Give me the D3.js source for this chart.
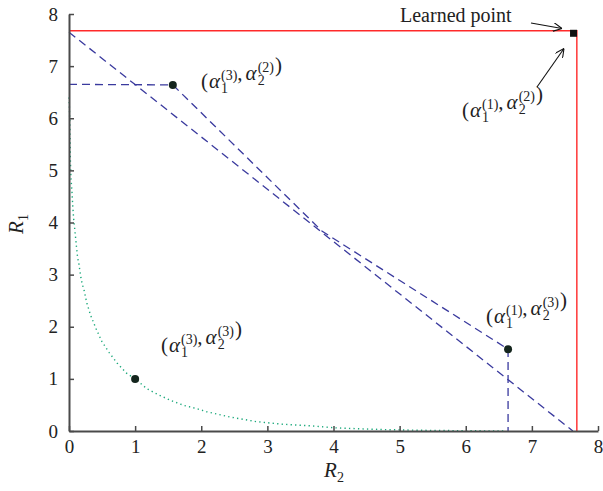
<!DOCTYPE html>
<html>
<head>
<meta charset="utf-8">
<script src="https://cdn.jsdelivr.net/npm/d3@7"></script>
<style>
    body { margin: 0; background: #fff; }
    svg text { font-family: "Liberation Serif", "DejaVu Serif", serif; fill: #222; }
    .axis path, .axis line { stroke: #4a4a4a; }
    .axis path { stroke-width: 2px; }
    .axis line { stroke-width: 1.5px; }
    .axis text { font-size: 19px; }
</style>
</head>
<body>
<div id="chart"></div>
<script>

// ticks
const xTicks = [0, 1, 2, 3, 4, 5, 6, 7, 8];
const yTicks = [0, 1, 2, 3, 4, 5, 6, 7, 8];

// red boundary through the learned point
const redX = [0, 7.68, 7.68];
const redY = [7.68, 7.68, 0];

// blue dashed lines (each one is a list of x and a list of y)
const envX = [0, 7.62];
const envY = [7.65, 0];
const chordX = [0, 1.57, 3.83, 6.64, 6.64];
const chordY = [6.65, 6.64, 3.83, 1.57, 0];

// green dotted curve
const curveX = [0.0, 0.005, 0.015, 0.02, 0.03, 0.045, 0.056, 0.07, 0.09, 0.11, 0.13, 0.15, 0.18, 0.2, 0.23,
    0.27, 0.33, 0.41, 0.5, 0.61, 0.73, 0.87, 1.0, 1.18, 1.36, 1.55, 1.74, 1.93, 2.08, 2.43, 2.83,
    3.23, 3.64, 4.03, 4.44, 4.84, 5.24, 5.65, 6.05, 6.6];
const curveY = [6.4, 6.26, 5.74, 5.23, 4.85, 4.59, 4.34, 4.08, 3.83, 3.57, 3.33, 3.2, 2.94, 2.82, 2.69,
    2.45, 2.21, 1.96, 1.71, 1.5, 1.3, 1.11, 1.0, 0.81, 0.69, 0.58, 0.49, 0.43, 0.37, 0.27, 0.18,
    0.13, 0.10, 0.06, 0.04, 0.025, 0.015, 0.01, 0.005, 0.0];

// the points and their labels (superscripts of alpha_1 and alpha_2)
const pointX = [1.57, 6.64, 1.0];
const pointY = [6.64, 1.57, 1.0];
const learnedX = 7.63;
const learnedY = 7.63;
const labelSup1 = ["(3)", "(1)", "(3)", "(1)"];
const labelSup2 = ["(2)", "(3)", "(3)", "(2)"];

const width = 603, height = 491;

const svg = d3.select("#chart").append("svg")
    .attr("width", width)
    .attr("height", height);

const x = d3.scaleLinear().domain([0, 8]).range([69, 598]);
const y = d3.scaleLinear().domain([0, 8]).range([431, 14]);

const zip = (xs, ys) => xs.map((d, i) => [d, ys[i]]);
const line = d3.line().x(d => x(d[0])).y(d => y(d[1]));

// green dotted curve
svg.append("path")
    .attr("d", line(zip(curveX, curveY)))
    .attr("fill", "none")
    .attr("stroke", "#1aa87a")
    .attr("stroke-width", 1.4)
    .attr("stroke-dasharray", "1.3,3.2");

// blue dashed
[[envX, envY], [chordX, chordY]].forEach(([xs, ys]) => {
    svg.append("path")
        .attr("d", line(zip(xs, ys)))
        .attr("fill", "none")
        .attr("stroke", "#3a3a9e")
        .attr("stroke-width", 1.3)
        .attr("stroke-dasharray", "8,5");
});

// red
svg.append("path")
    .attr("d", line(zip(redX, redY)))
    .attr("fill", "none")
    .attr("stroke", "#ff2a2a")
    .attr("stroke-width", 1.4);

// axes, ticks pointing inside
svg.append("g")
    .attr("class", "axis")
    .attr("transform", `translate(0,${y(0)})`)
    .call(d3.axisBottom(x).tickValues(xTicks).tickSize(-5).tickSizeOuter(0).tickPadding(9))
    .call(g => g.selectAll("text").attr("fill", "#222"));

svg.append("g")
    .attr("class", "axis")
    .attr("transform", `translate(${x(0)},0)`)
    .call(d3.axisLeft(y).tickValues(yTicks).tickSize(-5).tickSizeOuter(0).tickPadding(11))
    .call(g => g.selectAll("text").attr("fill", "#222"));

// axis titles
function axisTitle(tx, ty, sub, rotate) {
    const t = svg.append("text")
        .attr("transform", `translate(${tx},${ty})` + (rotate ? " rotate(-90)" : ""))
        .attr("text-anchor", "middle")
        .style("font-size", "21px");
    t.append("tspan").style("font-style", "italic").text("R");
    t.append("tspan").attr("dy", 5).style("font-size", "14px").text(sub);
}
axisTitle(334, 477, "2", false);
axisTitle(23, 224, "1", true);

// points
svg.selectAll(".pt").data(zip(pointX, pointY)).enter()
    .append("circle")
    .attr("class", "pt")
    .attr("cx", d => x(d[0]))
    .attr("cy", d => y(d[1]))
    .attr("r", 4)
    .attr("fill", "#14251d");

svg.append("rect")
    .attr("x", x(learnedX) - 3.5)
    .attr("y", y(learnedY) - 3.5)
    .attr("width", 7)
    .attr("height", 7)
    .attr("fill", "#111");

// (alpha_1^(a), alpha_2^(b)) as one text, the superscript stepped back over the subscript
function mathLabel(lx, ly, sup1, sup2) {
    const t = svg.append("text")
        .attr("x", lx).attr("y", ly)
        .style("font-size", "21px");
    const alpha = (sub, sup, first) => {
        t.append("tspan").attr("dx", first ? 1 : 3).style("font-style", "italic").text("α");
        t.append("tspan").attr("dx", 1).attr("dy", 5).style("font-size", "14px").text(sub);
        t.append("tspan").attr("dx", -7).attr("dy", -13).style("font-size", "14px").text(sup);
        t.append("tspan").attr("dy", 8).text("");
    };
    t.append("tspan").text("(");
    alpha("1", sup1, true);
    t.append("tspan").text(",");
    alpha("2", sup2, false);
    t.append("tspan").attr("dx", 1).text(")");
}
mathLabel(201, 88, labelSup1[0], labelSup2[0]);
mathLabel(486, 323, labelSup1[1], labelSup2[1]);
mathLabel(161, 352, labelSup1[2], labelSup2[2]);
mathLabel(462, 117, labelSup1[3], labelSup2[3]);

svg.append("text")
    .attr("x", 400)
    .attr("y", 22)
    .style("font-size", "20px")
    .text("Learned point");

// arrows
svg.append("defs").append("marker")
    .attr("id", "head")
    .attr("viewBox", "0 0 10 10")
    .attr("refX", 10).attr("refY", 5)
    .attr("markerWidth", 9).attr("markerHeight", 9)
    .attr("markerUnits", "userSpaceOnUse")
    .attr("orient", "auto")
    .append("path")
    .attr("d", "M0,0 L10,5 L0,10")
    .attr("fill", "none")
    .attr("stroke", "#111")
    .attr("stroke-width", 1.2);

const arrows = [[531, 23, 562, 28.5], [537, 87, 564, 48.5]];
arrows.forEach(a => {
    svg.append("line")
        .attr("x1", a[0]).attr("y1", a[1])
        .attr("x2", a[2]).attr("y2", a[3])
        .attr("stroke", "#111")
        .attr("stroke-width", 1.1)
        .attr("marker-end", "url(#head)");
});

</script>
</body>
</html>
